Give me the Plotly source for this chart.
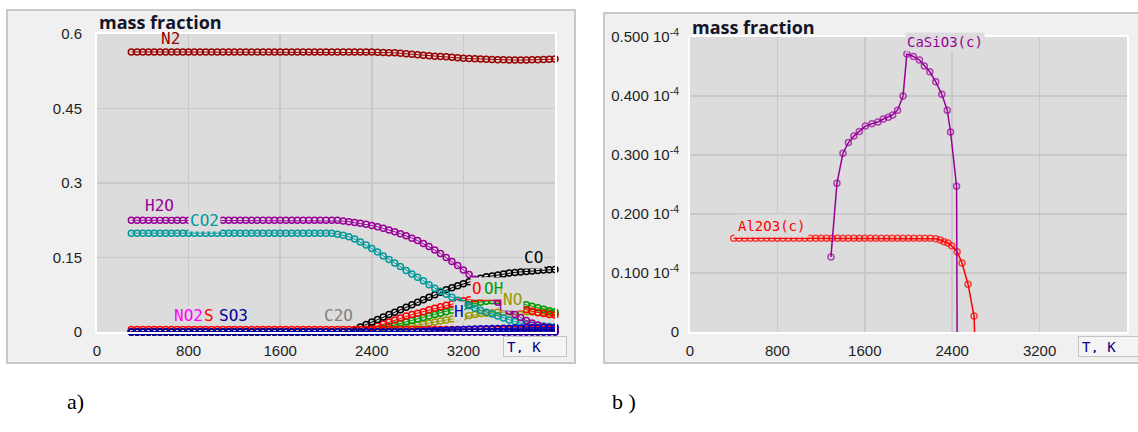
import plotly.graph_objects as go

# ---------------- data (left panel, a) ----------------
T = list(range(300, 4001, 50))  # K, 75 points

N2 = [0.564, 0.564, 0.564, 0.564, 0.564, 0.564, 0.564, 0.564, 0.564, 0.564, 0.564, 0.564, 0.564, 0.564, 0.564,
      0.564, 0.564, 0.564, 0.564, 0.564, 0.564, 0.564, 0.564, 0.564, 0.564, 0.564, 0.564, 0.564, 0.564, 0.564,
      0.564, 0.564, 0.564, 0.564, 0.564, 0.564, 0.564, 0.564, 0.564, 0.564, 0.564, 0.564, 0.564, 0.5635, 0.563,
      0.5625, 0.562, 0.561, 0.560, 0.559, 0.558, 0.557, 0.556, 0.555, 0.5545, 0.554, 0.553, 0.552, 0.551, 0.5505,
      0.550, 0.5495, 0.549, 0.5485, 0.548, 0.548, 0.5475, 0.5475, 0.5475, 0.5475, 0.548, 0.548, 0.5485, 0.549, 0.5495]

H2O = [0.225, 0.225, 0.225, 0.225, 0.225, 0.225, 0.225, 0.225, 0.225, 0.225, 0.225, 0.225, 0.225, 0.225, 0.225,
       0.225, 0.225, 0.225, 0.225, 0.225, 0.225, 0.225, 0.225, 0.225, 0.225, 0.225, 0.225, 0.225, 0.225, 0.225,
       0.225, 0.225, 0.225, 0.225, 0.225, 0.225, 0.225, 0.2235, 0.222, 0.2205, 0.219, 0.217, 0.2145, 0.212, 0.209,
       0.2055, 0.202, 0.198, 0.194, 0.189, 0.184, 0.178, 0.172, 0.165, 0.158, 0.150, 0.142, 0.134, 0.125, 0.116,
       0.106, 0.095, 0.084, 0.073, 0.060, 0.050, 0.042, 0.035, 0.029, 0.023, 0.018, 0.014, 0.011, 0.008, 0.006]

CO2 = [0.199, 0.199, 0.199, 0.199, 0.199, 0.199, 0.199, 0.199, 0.199, 0.199, 0.199, 0.199, 0.199, 0.199, 0.199,
       0.199, 0.199, 0.199, 0.199, 0.199, 0.199, 0.199, 0.199, 0.199, 0.199, 0.199, 0.199, 0.199, 0.199, 0.199,
       0.199, 0.199, 0.199, 0.199, 0.199, 0.199, 0.197, 0.195, 0.192, 0.187, 0.181, 0.175, 0.168, 0.161, 0.153,
       0.146, 0.139, 0.132, 0.124, 0.117, 0.110, 0.103, 0.095, 0.088, 0.082, 0.076, 0.070, 0.064, 0.058, 0.053,
       0.048, 0.044, 0.040, 0.036, 0.032, 0.028, 0.024, 0.021, 0.018, 0.016, 0.014, 0.013, 0.012, 0.011, 0.010]

CO = [0, 0, 0, 0, 0, 0, 0, 0, 0, 0, 0, 0, 0, 0, 0,
      0, 0, 0, 0, 0, 0, 0, 0, 0, 0, 0, 0, 0, 0, 0,
      0, 0, 0, 0, 0, 0, 0, 0, 0, 0.003, 0.010, 0.015, 0.020, 0.025, 0.030,
      0.035, 0.040, 0.045, 0.050, 0.055, 0.060, 0.065, 0.070, 0.075, 0.080, 0.085, 0.089, 0.093, 0.097, 0.101,
      0.105, 0.108, 0.111, 0.113, 0.115, 0.117, 0.119, 0.120, 0.121, 0.122, 0.123, 0.124, 0.125, 0.1255, 0.126]

O2 = [0, 0, 0, 0, 0, 0, 0, 0, 0, 0, 0, 0, 0, 0, 0,
      0, 0, 0, 0, 0, 0, 0, 0, 0, 0, 0, 0, 0, 0, 0,
      0, 0, 0, 0, 0, 0, 0, 0, 0, 0, 0, 0.004, 0.008, 0.012, 0.016,
      0.020, 0.024, 0.028, 0.032, 0.035, 0.038, 0.041, 0.045, 0.048, 0.051, 0.054, 0.057, 0.060, 0.063, 0.065,
      0.067, 0.069, 0.070, 0.070, 0.068, 0.064, 0.059, 0.054, 0.049, 0.045, 0.042, 0.039, 0.037, 0.035, 0.034]

OH = [0, 0, 0, 0, 0, 0, 0, 0, 0, 0, 0, 0, 0, 0, 0,
      0, 0, 0, 0, 0, 0, 0, 0, 0, 0, 0, 0, 0, 0, 0,
      0, 0, 0, 0, 0, 0, 0, 0, 0, 0, 0, 0, 0.002, 0.005, 0.008,
      0.011, 0.014, 0.017, 0.020, 0.023, 0.026, 0.029, 0.032, 0.035, 0.038, 0.041, 0.044, 0.047, 0.051, 0.055,
      0.058, 0.060, 0.062, 0.063, 0.063, 0.062, 0.061, 0.059, 0.057, 0.055, 0.052, 0.049, 0.046, 0.043, 0.041]

NO = [0, 0, 0, 0, 0, 0, 0, 0, 0, 0, 0, 0, 0, 0, 0,
      0, 0, 0, 0, 0, 0, 0, 0, 0, 0, 0, 0, 0, 0, 0,
      0, 0, 0, 0, 0, 0, 0, 0, 0, 0, 0, 0, 0, 0.001, 0.003,
      0.004, 0.006, 0.008, 0.010, 0.012, 0.014, 0.016, 0.018, 0.020, 0.022, 0.024, 0.026, 0.028, 0.030, 0.033,
      0.035, 0.037, 0.038, 0.039, 0.040, 0.040, 0.0405, 0.041, 0.041, 0.041, 0.0405, 0.040, 0.040, 0.039, 0.038]

H = [0, 0, 0, 0, 0, 0, 0, 0, 0, 0, 0, 0, 0, 0, 0,
     0, 0, 0, 0, 0, 0, 0, 0, 0, 0, 0, 0, 0, 0, 0,
     0, 0, 0, 0, 0, 0, 0, 0, 0, 0, 0, 0, 0, 0, 0,
     0, 0, 0, 0, 0, 0.001, 0.0015, 0.002, 0.0025, 0.003, 0.0035, 0.004, 0.0045, 0.005, 0.0055,
     0.006, 0.0063, 0.0066, 0.0069, 0.0072, 0.0075, 0.0078, 0.008, 0.0082, 0.0084, 0.0086, 0.0088, 0.009, 0.0091, 0.0092]

S = [0.005, 0.005, 0.005, 0.005, 0.005, 0.005, 0.005, 0.005, 0.005, 0.005, 0.005, 0.005, 0.005, 0.005, 0.005,
     0.005, 0.005, 0.005, 0.005, 0.005, 0.005, 0.005, 0.005, 0.005, 0.005, 0.005, 0.005, 0.005, 0.005, 0.005,
     0.005, 0.005, 0.005, 0.005, 0.005, 0.005, 0.005, 0.005, 0.005, 0.005, 0.005, 0.005, 0.005, 0.005, 0.005,
     0.005, 0.005, 0.005, 0.005, 0.005, 0.005, 0.005, 0.005, 0.005, 0.005, 0.005, 0.005, 0.005, 0.005, 0.005,
     0.005, 0.005, 0.005, 0.005, 0.005, 0.005, 0.005, 0.005, 0.005, 0.005, 0.005, 0.005, 0.005, 0.005, 0.005]

ZERO = [0, 0, 0, 0, 0, 0, 0, 0, 0, 0, 0, 0, 0, 0, 0,
        0, 0, 0, 0, 0, 0, 0, 0, 0, 0, 0, 0, 0, 0, 0,
        0, 0, 0, 0, 0, 0, 0, 0, 0, 0, 0, 0, 0, 0, 0,
        0, 0, 0, 0, 0, 0, 0, 0, 0, 0, 0, 0, 0, 0, 0,
        0, 0, 0, 0, 0, 0, 0, 0, 0, 0, 0, 0, 0, 0, 0]
NO2 = ZERO
C2O = ZERO
SO3 = ZERO

# ---------------- data (right panel, b), mass fraction in units of 1e-4 ----------------
T_casio3 = [1290, 1345, 1400, 1450, 1500, 1550, 1605, 1665, 1720, 1770, 1815, 1855, 1900, 1950,
            1985, 2045, 2100, 2145, 2195, 2250, 2305, 2355, 2385, 2440, 2445]
CaSiO3 = [0.127, 0.252, 0.303, 0.321, 0.332, 0.340, 0.349, 0.353, 0.356, 0.361, 0.364, 0.368, 0.376, 0.400,
          0.471, 0.467, 0.461, 0.451, 0.441, 0.424, 0.403, 0.376, 0.339, 0.247, 0.0]

T_al2o3 = [400, 450, 500, 550, 600, 650, 700, 750, 800, 850, 900, 950, 1000, 1050, 1100, 1150, 1200, 1250,
           1300, 1350, 1400, 1450, 1500, 1550, 1600, 1650, 1700, 1750, 1800, 1850, 1900, 1950, 2000, 2050,
           2100, 2150, 2200, 2250, 2290, 2325, 2360, 2395, 2445, 2490, 2545, 2600, 2605]
Al2O3 = [0.159, 0.159, 0.159, 0.159, 0.159, 0.159, 0.159, 0.159, 0.159, 0.159, 0.159, 0.159, 0.159, 0.159,
         0.159, 0.159, 0.159, 0.159, 0.159, 0.159, 0.159, 0.159, 0.159, 0.159, 0.159, 0.159, 0.159, 0.159,
         0.159, 0.159, 0.159, 0.159, 0.159, 0.159, 0.159, 0.159, 0.159, 0.158, 0.156, 0.153, 0.151, 0.146,
         0.136, 0.117, 0.081, 0.027, 0.0]

x_ticks = [0, 800, 1600, 2400, 3200]
x_ticktext = ["0", "800", "1600", "2400", "3200"]
yL_ticks = [0, 0.15, 0.3, 0.45, 0.6]
yL_ticktext = ["0", "0.15", "0.3", "0.45", "0.6"]
yR_ticks = [0, 0.1, 0.2, 0.3, 0.4, 0.5]
yR_ticktext = ["0", "0.100 10<sup>-4</sup>", "0.200 10<sup>-4</sup>", "0.300 10<sup>-4</sup>",
               "0.400 10<sup>-4</sup>", "0.500 10<sup>-4</sup>"]

# ---------------- figure ----------------
W, H_ = 1138, 432
def px(x):
    return x / W
def py(y):
    return 1 - y / H_

PLOT_BG = "#dcdcdc"
PANEL_BG = "#f0f0f0"
GRID = "#c9c9c9"
MONO = "DejaVu Sans Mono"
TICKF = "Liberation Sans"

fig = go.Figure()

left_series = [
    (C2O, "#808080"), (NO2, "#ff00ff"), (NO, "#999900"), (OH, "#009900"), (O2, "#ff0000"),
    (CO, "#000000"), (CO2, "#009999"), (H2O, "#990099"), (N2, "#990000"),
    (S, "#ff0000"), (H, "#0000cc"), (SO3, "#000099"),
]
for vals, col in left_series:
    fig.add_trace(go.Scatter(
        x=T, y=vals, mode="lines+markers", xaxis="x", yaxis="y",
        line=dict(color=col, width=1),
        marker=dict(symbol="circle-open", size=6, color=col, line=dict(width=1.5, color=col)),
        cliponaxis=False, hoverinfo="skip", showlegend=False))

for tx, vals, col in [(T_al2o3, Al2O3, "#ff0000"), (T_casio3, CaSiO3, "#990099")]:
    sizes = [6] * (len(vals) - 1) + [0]
    fig.add_trace(go.Scatter(
        x=tx, y=vals, mode="lines+markers", xaxis="x2", yaxis="y2",
        line=dict(color=col, width=1.5),
        marker=dict(symbol="circle-open", size=sizes, color=col, line=dict(width=1.5, color=col)),
        cliponaxis=False, hoverinfo="skip", showlegend=False))

axis_common = dict(showgrid=True, gridcolor=GRID, gridwidth=1.5, zeroline=False, automargin=False,
                   showline=True, linecolor="white", linewidth=2, mirror=True,
                   ticks="outside", tickcolor="rgba(0,0,0,0)",
                   tickfont=dict(family=TICKF, size=15, color="#1e1e1e"))

fig.update_layout(
    width=W, height=H_, margin=dict(l=0, r=0, t=0, b=0, autoexpand=False),
    paper_bgcolor="white", plot_bgcolor=PLOT_BG, showlegend=False,
    xaxis=dict(domain=[px(97), px(555)], range=[0, 4000], tickvals=x_ticks, ticktext=x_ticktext,
               anchor="y", ticklen=4, **axis_common),
    yaxis=dict(domain=[py(332), py(34)], range=[0, 0.6], tickvals=yL_ticks, ticktext=yL_ticktext,
               anchor="x", ticklen=10, **axis_common),
    xaxis2=dict(domain=[px(690), px(1127)], range=[0, 4000], tickvals=x_ticks, ticktext=x_ticktext,
                anchor="y2", ticklen=4, **axis_common),
    yaxis2=dict(domain=[py(332), py(37)], range=[0, 0.5], tickvals=yR_ticks, ticktext=yR_ticktext,
                anchor="x2", ticklen=6, **axis_common),
)

shapes = [
    dict(type="rect", xref="paper", yref="paper", x0=px(7), x1=px(575), y0=py(363), y1=py(10),
         fillcolor=PANEL_BG, line=dict(color="#c8c8c8", width=2), layer="below"),
    dict(type="rect", xref="paper", yref="paper", x0=px(604), x1=px(1150), y0=py(363), y1=py(13),
         fillcolor=PANEL_BG, line=dict(color="#c8c8c8", width=2), layer="below"),
    dict(type="rect", xref="paper", yref="paper", x0=px(97), x1=px(555), y0=py(332), y1=py(34),
         fillcolor=PLOT_BG, line=dict(width=0), layer="below"),
    dict(type="rect", xref="paper", yref="paper", x0=px(690), x1=px(1127), y0=py(332), y1=py(37),
         fillcolor=PLOT_BG, line=dict(width=0), layer="below"),
]
fig.update_layout(shapes=shapes)

ann = []
def label(text, x, y, color, xr="x", yr="y", size=16, pad=1, bg=PLOT_BG):
    ann.append(dict(text=text, x=x, y=y, xref=xr, yref=yr, showarrow=False,
                    font=dict(family=MONO, size=size, color=color),
                    bgcolor=bg, borderpad=pad, xanchor="center", yanchor="middle"))

# left panel series labels
label("N2", 640, 0.591, "#990000", pad=0, bg="rgba(0,0,0,0)")
label("H2O", 550, 0.254, "#990099")
label("CO2", 939, 0.2245, "#009999")
label("NO2", 800, 0.0335, "#ff00ff", pad=0)
label("S", 974, 0.0335, "#ff0000", pad=0)
label("SO3", 1192, 0.0335, "#000099", pad=0)
label("C2O", 2105, 0.0325, "#808080", pad=0)
label("CO", 3808, 0.150, "#000000")
label("O2", 3354, 0.0886, "#ff0000")
label("H", 3162, 0.0403, "#0000cc", pad=0)
label("OH", 3467, 0.0886, "#009900")
label("NO", 3625, 0.0664, "#999900")
# right panel series labels
label("CaSiO3(c)", 2334, 0.4915, "#990099", "x2", "y2", 14)
label("Al2O3(c)", 746, 0.179, "#ff0000", "x2", "y2", 14, pad=3)

# titles
for xx, yy in [(97, 22), (690, 27)]:
    ann.append(dict(text="<b>mass fraction</b>", x=px(xx), y=py(yy), xref="paper", yref="paper",
                    showarrow=False, xanchor="left", yanchor="middle",
                    font=dict(family="Open Sans", size=18, color="#141428")))
# T, K boxes
for xx in [503, 1078]:
    ann.append(dict(text="T, K", x=px(xx), y=py(346), xref="paper", yref="paper", showarrow=False,
                    xanchor="left", yanchor="middle", width=56, height=13, align="left",
                    bgcolor="#f4f4f4", bordercolor="#c4c4c4", borderwidth=1, borderpad=3,
                    font=dict(family=MONO, size=14, color="#000080")))
# panel captions
ann.append(dict(text="a)", x=px(65), y=py(416), xref="paper", yref="paper", showarrow=False,
                font=dict(family="Liberation Serif", size=22, color="black")))
ann.append(dict(text="b )", x=px(624), y=py(416), xref="paper", yref="paper", showarrow=False,
                font=dict(family="Liberation Serif", size=22, color="black")))

fig.update_layout(annotations=ann)
fig.write_html("out.html", config={"displayModeBar": False, "staticPlot": True})

# remove the browser's default page margin so the figure sits at the window origin
with open("out.html", "r", encoding="utf-8") as f:
    html = f.read()
html = html.replace("<body>", '<body style="margin:0;padding:0;">', 1)
with open("out.html", "w", encoding="utf-8") as f:
    f.write(html)
